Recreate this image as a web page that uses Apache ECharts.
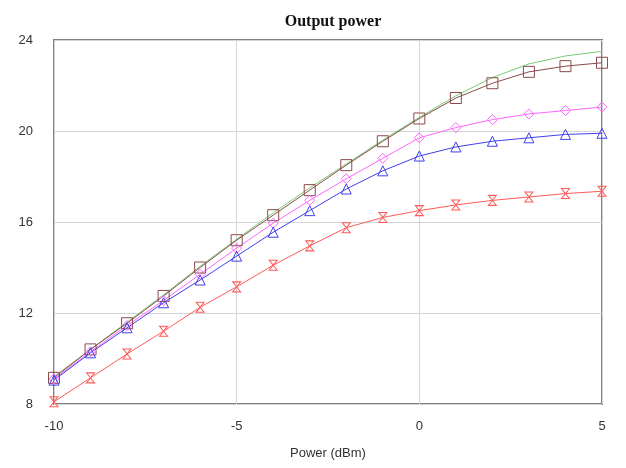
<!DOCTYPE html>
<html lang="en">
<head>
    <meta charset="UTF-8">
    <title>Output power</title>
    <style>
        body{
            margin: 0;
            background: #fff;
        }
    </style>
</head>
<body>
<div id="myChart" style="width: 626px;height: 468px;"></div>
<script src="https://cdn.jsdelivr.net/npm/echarts@6/dist/echarts.min.js"></script>
<script>
    // input power, dBm
    var powerIn = [-10, -9, -8, -7, -6, -5, -4, -3, -2, -1, 0, 1, 2, 3, 4, 5];
    // output power curves
    var greenOut   = [9.2, 10.4, 11.6, 12.8, 14.05, 15.25, 16.4, 17.5, 18.55, 19.6, 20.6, 21.55, 22.35, 22.95, 23.3, 23.5];
    var squareOut  = [9.15, 10.4, 11.55, 12.75, 14.0, 15.2, 16.3, 17.4, 18.5, 19.55, 20.55, 21.45, 22.1, 22.6, 22.85, 23.0];
    var diamondOut = [9.1, 10.3, 11.45, 12.55, 13.7, 14.85, 15.95, 16.95, 17.9, 18.8, 19.7, 20.15, 20.5, 20.75, 20.9, 21.05];
    var triOut     = [9.05, 10.25, 11.35, 12.45, 13.45, 14.5, 15.55, 16.5, 17.45, 18.25, 18.9, 19.3, 19.55, 19.7, 19.85, 19.9];
    var hourOut    = [8.1, 9.15, 10.2, 11.2, 12.25, 13.15, 14.1, 14.95, 15.75, 16.2, 16.5, 16.75, 16.95, 17.1, 17.25, 17.35];

    function pairs(ys) {
        return powerIn.map(function (x, i) { return [x, ys[i]]; });
    }

    function curve(name, ys, color, symbol, size) {
        return {
            name: name,
            type: 'line',
            data: pairs(ys),
            symbol: symbol || 'none',
            symbolSize: size || 0,
            showSymbol: !!symbol,
            lineStyle: {width: 1, color: color},
            itemStyle: {color: 'rgba(0,0,0,0)', borderColor: color, borderWidth: 1},
            emphasis: {disabled: true},
            animation: false
        };
    }

    var myChart = echarts.init(document.getElementById('myChart'));
    var option = {
        backgroundColor: '#fff',
        title: {
            text: 'Output power',
            left: 328,
            top: 9,
            textAlign: 'center',
            textStyle: {fontFamily: 'Liberation Serif', fontWeight: 'bold', fontSize: 16, color: '#111'}
        },
        grid: {
            left: 54, right: 24, top: 40, bottom: 64,
            show: true,
            borderColor: '#808080',
            borderWidth: 2
        },
        xAxis: {
            type: 'value',
            min: -10, max: 5, interval: 5,
            name: 'Power (dBm)',
            nameLocation: 'middle',
            nameGap: 43,
            nameTextStyle: {fontFamily: 'Liberation Sans', fontSize: 13, color: '#333'},
            axisLine: {show: false},
            axisTick: {show: false},
            axisLabel: {margin: 16, fontFamily: 'Liberation Sans', fontSize: 13, color: '#333'},
            splitLine: {lineStyle: {color: '#d4d4d4', width: 1}}
        },
        yAxis: {
            type: 'value',
            min: 8, max: 24, interval: 4,
            axisLine: {show: false},
            axisTick: {show: false},
            axisLabel: {margin: 21, fontFamily: 'Liberation Sans', fontSize: 13, color: '#333'},
            splitLine: {lineStyle: {color: '#d4d4d4', width: 1}}
        },
        series: [
            curve('green', greenOut, '#77cc77'),
            curve('square', squareOut, '#8a4a4a', 'rect', 11),
            curve('diamond', diamondOut, '#ff66ff', 'diamond', 10),
            curve('triangle', triOut, '#4040ee', 'triangle', 10),
            curve('hourglass', hourOut, '#ff5a5a', 'path://M0,0 L8,0 L0,10 L8,10 Z', [8, 10])
        ]
    };
    myChart.setOption(option);
</script>
</body>
</html>
